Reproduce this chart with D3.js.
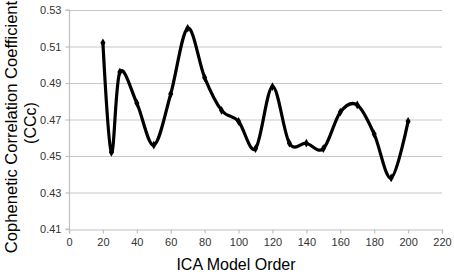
<!DOCTYPE html>
<html><head><meta charset="utf-8">
<script src="https://cdn.jsdelivr.net/npm/d3@7"></script>
<style>body{margin:0;background:#fff}svg{display:block}text{font-family:"Liberation Sans",Arial,sans-serif}</style>
</head><body><svg id="c" width="454" height="274"></svg>
<script>
const modelOrder = [20, 25, 30, 40, 50, 60, 70, 80, 90, 100, 110, 120, 130, 140, 150, 160, 170, 180, 190, 200];
const ccc = [0.512, 0.452, 0.496, 0.479, 0.456, 0.484, 0.520, 0.493, 0.475, 0.469, 0.454, 0.488, 0.457, 0.457, 0.454, 0.474, 0.478, 0.462, 0.438, 0.469];
const xTicks = [0, 20, 40, 60, 80, 100, 120, 140, 160, 180, 200, 220];
const yTicks = [0.41, 0.43, 0.45, 0.47, 0.49, 0.51, 0.53];

const svg = d3.select("#c");
const x = d3.scaleLinear().domain([0, 220]).range([69, 442]);
const y = d3.scaleLinear().domain([0.41, 0.53]).range([229, 10]);

// gridlines
svg.append("g").selectAll("line").data(yTicks.filter(d => d > 0.41)).join("line")
  .attr("x1", x(0)).attr("x2", x(220)).attr("y1", d => y(d) + 0.5).attr("y2", d => y(d) + 0.5)
  .attr("stroke", "#c8c8c8").attr("stroke-width", 1.2);

const yAxis = svg.append("g").attr("transform", `translate(${x(0) + 0.5},0)`)
  .call(d3.axisLeft(y).tickValues(yTicks).tickFormat(d3.format(".2f")).tickSize(4).tickPadding(4));
const xAxis = svg.append("g").attr("transform", `translate(0,${y(0.41) + 0.5})`)
  .call(d3.axisBottom(x).tickValues(xTicks).tickFormat(d3.format("d")).tickSize(4).tickPadding(5));
[yAxis, xAxis].forEach(g => {
  g.selectAll("path,line").attr("stroke", "#c0c0c0").attr("stroke-width", 1.2);
  g.selectAll("text").attr("font-size", 11).attr("fill", "#333");
});
yAxis.select(".domain").attr("d", `M-4,${y(0.53)}H0V${y(0.41)}H-4`);

const line = d3.line().x((d, i) => x(modelOrder[i])).y(d => y(d)).curve(d3.curveCardinal.tension(0));
svg.append("path").datum(ccc).attr("d", line)
  .attr("fill", "none").attr("stroke", "#000").attr("stroke-width", 3.2).attr("stroke-linejoin", "round");

svg.append("g").selectAll("path").data(ccc).join("path")
  .attr("transform", (d, i) => `translate(${x(modelOrder[i])},${y(d)})`)
  .attr("d", d3.symbol(d3.symbolDiamond, 22))
  .attr("fill", "#000");

svg.append("text").attr("x", 236).attr("y", 270).attr("text-anchor", "middle")
  .attr("font-size", 16).attr("fill", "#000").text("ICA Model Order");
svg.append("text").attr("transform", "translate(17,127) rotate(-90)").attr("text-anchor", "middle")
  .attr("font-size", 16.6).attr("fill", "#000").text("Cophenetic Correlation Coefficient");
svg.append("text").attr("transform", "translate(36,123) rotate(-90)").attr("text-anchor", "middle")
  .attr("font-size", 16).attr("fill", "#000").text("(CCc)");
</script></body></html>
